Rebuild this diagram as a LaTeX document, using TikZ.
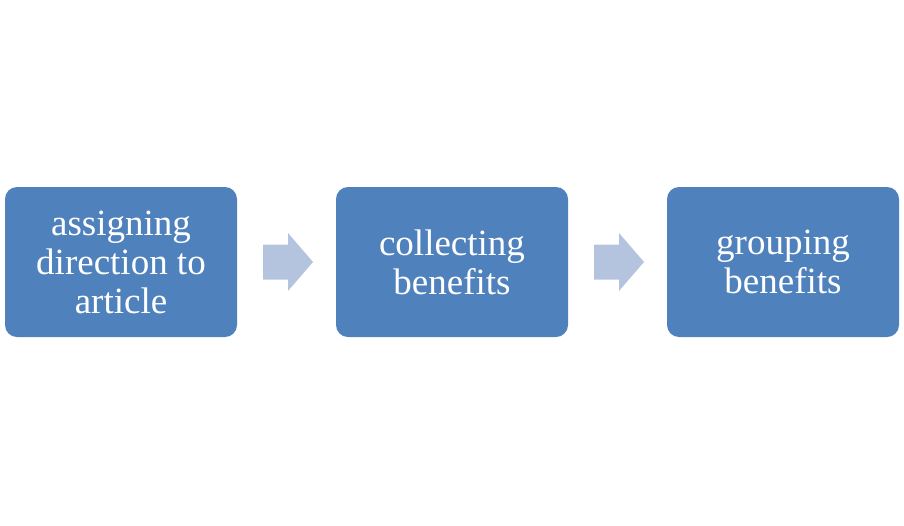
\documentclass[tikz,border=0pt]{standalone}
\usepackage{fontspec}
\setmainfont{Liberation Serif}
\usepackage{tikz}

\definecolor{boxblue}{HTML}{4F81BD}
\definecolor{arrowblue}{HTML}{B4C4DF}

\tikzset{
  stepbox/.style={fill=boxblue, rounded corners=12pt, minimum width=232pt,
    minimum height=150pt, align=center, text=white, inner sep=0pt,
    font=\fontsize{37}{39}\selectfont},
}

\begin{document}
\begin{tikzpicture}[x=1pt,y=1pt]
    \useasboundingbox (0,0) rectangle (904,-525);

    \node[stepbox] (assign) at (121,-262) {assigning\\direction to\\article};
    \node[stepbox] (collect) at (452,-262) {collecting\\benefits};
    \node[stepbox] (group) at (783,-262) {grouping\\benefits};

    % block arrows between the boxes
    \coordinate (arrA) at (288,-262);
    \coordinate (arrB) at (619,-262);
    \foreach \c in {arrA,arrB}
      \fill[arrowblue] ([xshift=-25pt,yshift=17.5pt]\c) -- ([yshift=17.5pt]\c)
        -- ([yshift=29pt]\c) -- ([xshift=25pt]\c) -- ([yshift=-29pt]\c)
        -- ([yshift=-17.5pt]\c) -- ([xshift=-25pt,yshift=-17.5pt]\c) -- cycle;
\end{tikzpicture}
\end{document}
